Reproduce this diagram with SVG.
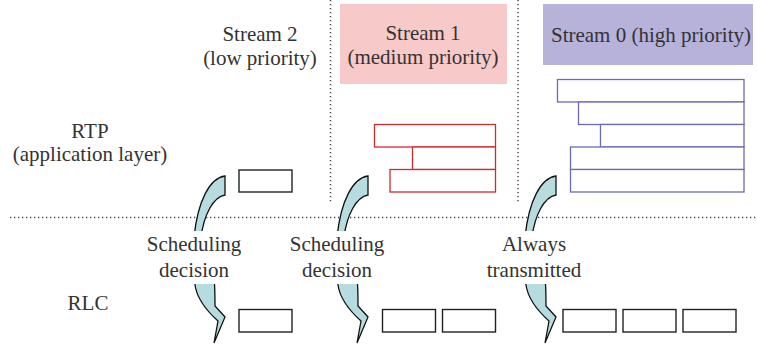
<svg xmlns="http://www.w3.org/2000/svg" width="757" height="347" viewBox="0 0 757 347">
<style>
text{font-family:"Liberation Serif","Times New Roman",serif;font-size:21px;fill:#333;text-anchor:middle}
.dot{stroke:#444;stroke-width:1.4;stroke-dasharray:1.3 2.7;fill:none}
.pk{fill:#fff;stroke:#222;stroke-width:1.4}
.red{fill:#fff;stroke:#cf2a2e;stroke-width:1.3}
.blue{fill:#fff;stroke:#6b6bb8;stroke-width:1.3}
.arr{fill:#b7dcdf;stroke:#111;stroke-width:1.3;stroke-linejoin:miter}
.mask{fill:#fff}
</style>
<defs>
<path id="carrow" d="M225,176 C210,178 198,200 194,237 C192,255 193,272 195,285 C197,299 208,312 218,321 L214,343 L225,317 L215,306 C215,295 215,285 214,278 C210,262 204,250 201,237 C204,215 213,197 225,195 Z"/>
</defs>
<rect width="757" height="347" fill="#fff"/>
<g id="separators">
<line class="dot" x1="10" y1="217.5" x2="757" y2="217.5"/>
<line class="dot" x1="330.5" y1="0" x2="330.5" y2="204"/>
<line class="dot" x1="518" y1="0" x2="518" y2="204"/>
</g>
<g id="layer-rtp"><text x="90" y="138">RTP</text><text x="90" y="161">(application layer)</text></g>
<g id="layer-rlc"><text x="88" y="310">RLC</text></g>
<g id="stream2-header"><text x="260" y="41">Stream 2</text><text x="260" y="65">(low priority)</text></g>
<g id="stream1-header"><rect x="340" y="4" width="167" height="80" fill="#f8c9c9"/><text x="423" y="40">Stream 1</text><text x="423" y="64">(medium priority)</text></g>
<g id="stream0-header"><rect x="543" y="4" width="210" height="61" fill="#b6b2d9"/><text x="651" y="42">Stream 0 (high priority)</text></g>
<g id="stream2-rtp"><rect class="pk" x="239" y="170" width="53" height="22"/></g>
<g id="stream1-rtp">
<rect class="red" x="374.5" y="124.5" width="121" height="22.5"/>
<rect class="red" x="412.5" y="147" width="83" height="22.5"/>
<rect class="red" x="390" y="169.5" width="105.5" height="22.5"/>
</g>
<g id="stream0-rtp">
<rect class="blue" x="557.5" y="79.5" width="186.5" height="22.5"/>
<rect class="blue" x="578.5" y="102" width="165.5" height="22.5"/>
<rect class="blue" x="600.5" y="124.5" width="143.5" height="22.5"/>
<rect class="blue" x="570.5" y="147" width="173.5" height="22.5"/>
<rect class="blue" x="570.5" y="169.5" width="173.5" height="22.5"/>
</g>
<g id="connectors">
<use href="#carrow" class="arr"/>
<use href="#carrow" class="arr" transform="translate(143,0)"/>
<use href="#carrow" class="arr" transform="translate(331,0)"/>
</g>
<g id="label-sched2"><rect class="mask" x="140" y="231" width="106" height="53"/><text x="194" y="251">Scheduling</text><text x="194" y="277">decision</text></g>
<g id="label-sched1"><rect class="mask" x="284" y="231" width="106" height="53"/><text x="337" y="251">Scheduling</text><text x="337" y="277">decision</text></g>
<g id="label-always"><rect class="mask" x="478" y="231" width="112" height="53"/><text x="534" y="251">Always</text><text x="534" y="277">transmitted</text></g>
<g id="stream2-rlc"><rect class="pk" x="239" y="309.5" width="53" height="22.5"/></g>
<g id="stream1-rlc"><rect class="pk" x="382.5" y="309.5" width="53" height="22.5"/><rect class="pk" x="442.5" y="309.5" width="53" height="22.5"/></g>
<g id="stream0-rlc"><rect class="pk" x="563" y="309.5" width="53" height="22.5"/><rect class="pk" x="623" y="309.5" width="53" height="22.5"/><rect class="pk" x="683" y="309.5" width="53" height="22.5"/></g>
</svg>
